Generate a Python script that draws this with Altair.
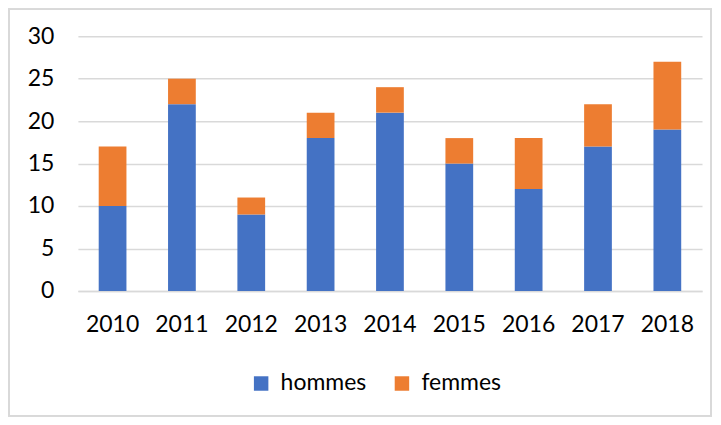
import altair as alt
import pandas as pd

years = ["2010", "2011", "2012", "2013", "2014", "2015", "2016", "2017", "2018"]
hommes = [10, 22, 9, 18, 21, 15, 12, 17, 19]
femmes = [7, 3, 2, 3, 3, 3, 6, 5, 8]
series = ["hommes", "femmes"]
colors = ["#4472C4", "#ED7D31"]
y_ticks = [0, 5, 10, 15, 20, 25, 30]

rows = []
for i, y in enumerate(years):
    rows.append({"annee": y, "groupe": "hommes", "valeur": hommes[i], "ordre": 0})
    rows.append({"annee": y, "groupe": "femmes", "valeur": femmes[i], "ordre": 1})
df = pd.DataFrame(rows)

FONT = "Lato"

bars = alt.Chart(df).mark_bar().encode(
    x=alt.X("annee:N", title=None, sort=years,
            scale=alt.Scale(paddingInner=0.6, paddingOuter=0.3),
            axis=alt.Axis(labelAngle=0, ticks=False, domain=True, domainColor="#d9d9d9",
                          domainWidth=1.5, labelPadding=23, grid=False)),
    y=alt.Y("valeur:Q", title=None, stack="zero",
            scale=alt.Scale(domain=[0, 30], nice=False),
            axis=alt.Axis(values=y_ticks, ticks=False, domain=False, labelPadding=24,
                          gridColor="#d9d9d9", gridWidth=1.5)),
    color=alt.Color("groupe:N", scale=alt.Scale(domain=series, range=colors),
                    legend=alt.Legend(title=None, orient="none", direction="horizontal",
                                      legendX=172, legendY=336, symbolType="square",
                                      symbolSize=210, symbolStrokeWidth=0,
                                      labelOffset=8, columnPadding=24,
                                      labelFont=FONT, labelFontSize=23,
                                      labelColor="#000000")),
    order=alt.Order("ordre:Q"),
)

border = alt.Chart(df).mark_rect(fill=None, stroke="#d9d9d9", strokeWidth=1.5, clip=False).encode(
    x=alt.value(-69), x2=alt.value(634), y=alt.value(-27), y2=alt.value(380)
)

chart = alt.layer(border, bars).properties(
    width=625, height=255,
    padding={"left": 70, "top": 28, "right": 11, "bottom": 126},
    autosize=alt.AutoSizeParams(type="none"),
).configure_view(stroke=None).configure_axis(
    labelFont=FONT, labelFontSize=23, labelColor="#000000"
)

chart.save("out.html", embed_options={"renderer": "svg", "actions": False})
